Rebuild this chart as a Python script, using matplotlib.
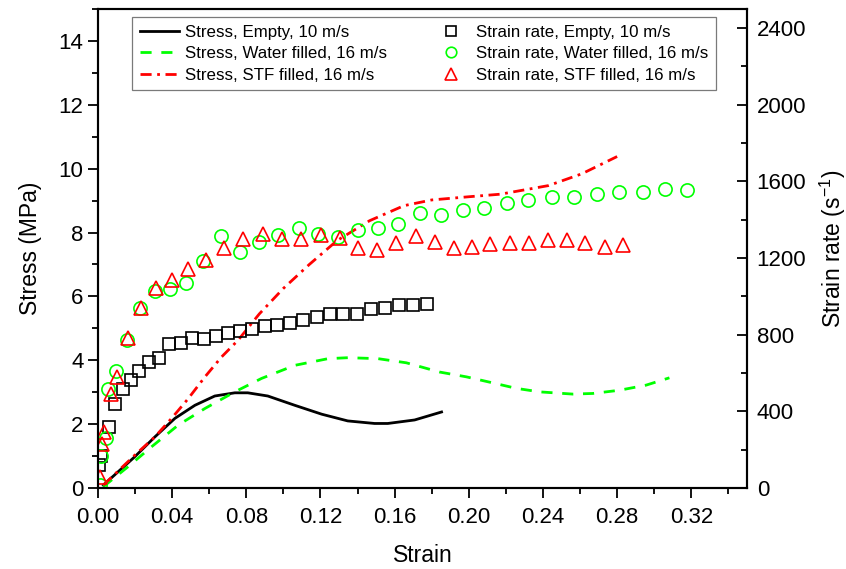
import numpy as np
from matplotlib import pyplot as plt
from matplotlib.ticker import MultipleLocator

plt.rcParams['font.family'] = ['Liberation Sans', 'DejaVu Sans']
plt.rcParams['mathtext.default'] = 'regular'

# Stress-strain curves (left axis, MPa).
strain_empty = [0.0029, 0.0199, 0.0307, 0.0415, 0.0523, 0.0630, 0.0738, 0.0808,
	0.0916, 0.1061, 0.1207, 0.1347, 0.1492, 0.1563, 0.1708, 0.1853]
stress_empty = [0.09, 0.98, 1.60, 2.18, 2.59, 2.88, 2.98, 2.98,
	2.88, 2.59, 2.31, 2.10, 2.02, 2.02, 2.13, 2.38]

strain_water = [0.0029, 0.0163, 0.0289, 0.0433, 0.0577, 0.0738, 0.0882, 0.1061,
	0.1241, 0.1349, 0.1510, 0.1663, 0.1843, 0.1987, 0.2130, 0.2256, 0.2381,
	0.2561, 0.2669, 0.2812, 0.2956, 0.3082]
stress_water = [0.04, 0.67, 1.29, 1.97, 2.49, 3.01, 3.43, 3.84,
	4.05, 4.08, 4.05, 3.92, 3.63, 3.48, 3.29, 3.12, 3.01,
	2.94, 2.96, 3.06, 3.22, 3.45]

strain_stf = [0.0029, 0.0199, 0.0307, 0.0397, 0.0487, 0.0577, 0.0666, 0.0756,
	0.087, 0.100, 0.114, 0.129, 0.1465, 0.165, 0.180, 0.200, 0.217, 0.243,
	0.261, 0.280]
stress_stf = [0.09, 1.03, 1.60, 2.18, 2.80, 3.48, 4.10, 4.63,
	5.45, 6.25, 7.0, 7.75, 8.37, 8.84, 9.02, 9.12, 9.2, 9.47,
	9.84, 10.38]

# Strain rate points (right axis, 1/s).
rate_strain_empty = [0.0005, 0.0016, 0.0059, 0.0092, 0.0135, 0.0178, 0.0221,
	0.0275, 0.0329, 0.0383, 0.0447, 0.0506, 0.0571, 0.0636, 0.0700, 0.0765,
	0.0830, 0.0900, 0.0964, 0.1034, 0.1105, 0.1180, 0.1250, 0.1320, 0.1395,
	0.1471, 0.1546, 0.1622, 0.1697, 0.1773]
rate_empty = [120, 165, 317, 436, 514, 566, 608, 660, 680, 753, 758, 784, 779,
	795, 810, 821, 831, 847, 852, 862, 878, 894, 909, 909, 909, 935, 940, 956,
	956, 961]

rate_strain_water = [0.0011, 0.0016, 0.0043, 0.0054, 0.0097, 0.0156, 0.0226,
	0.0307, 0.0388, 0.0474, 0.0566, 0.0663, 0.0765, 0.0867, 0.0970, 0.1083,
	0.1185, 0.1293, 0.1401, 0.1509, 0.1616, 0.1735, 0.1848, 0.1967, 0.2080,
	0.2204, 0.2317, 0.2446, 0.2565, 0.2689, 0.2812, 0.2937, 0.3060, 0.3179]
rate_water = [16, 166, 260, 519, 608, 774, 940, 1029, 1039, 1070, 1184, 1314,
	1231, 1283, 1320, 1356, 1325, 1309, 1345, 1356, 1377, 1434, 1423, 1449,
	1460, 1486, 1501, 1517, 1517, 1532, 1543, 1543, 1559, 1553]

rate_strain_stf = [0.0011, 0.0022, 0.0032, 0.0070, 0.0102, 0.0162, 0.0232,
	0.0313, 0.0399, 0.0485, 0.0582, 0.0679, 0.0781, 0.0889, 0.0991, 0.1094,
	0.1202, 0.1304, 0.1401, 0.1503, 0.1606, 0.1713, 0.1816, 0.1918, 0.2015,
	0.2117, 0.2220, 0.2322, 0.2425, 0.2527, 0.2629, 0.2732, 0.2834]
rate_stf = [57, 229, 291, 488, 577, 784, 940, 1044, 1086, 1143, 1190, 1252,
	1299, 1325, 1299, 1299, 1320, 1304, 1252, 1242, 1278, 1314, 1283, 1252,
	1257, 1273, 1278, 1278, 1294, 1294, 1278, 1257, 1268]

green = '#00ff00'
red = '#ff0000'

fig = plt.figure(figsize=(8.46, 5.69), dpi=100)
ax = fig.add_axes([0.1158, 0.1424, 0.7671, 0.8418])
ax2 = ax.twinx()

l1, = ax.plot(strain_empty, stress_empty, color='k', lw=2,
	label='Stress, Empty, 10 m/s')
l2, = ax.plot(strain_water, stress_water, color=green, lw=2,
	dashes=(4, 3.5), label='Stress, Water filled, 16 m/s')
l3, = ax.plot(strain_stf, stress_stf, color=red, lw=2,
	dashes=(4, 2, 1, 2), label='Stress, STF filled, 16 m/s')

m1, = ax2.plot(rate_strain_empty, rate_empty, ls='none', marker='s', ms=8.5,
	mfc='none', mec='k', mew=1.2, label='Strain rate, Empty, 10 m/s')
m2, = ax2.plot(rate_strain_water, rate_water, ls='none', marker='o', ms=9.5,
	mfc='none', mec=green, mew=1.2, label='Strain rate, Water filled, 16 m/s')
m3, = ax2.plot(rate_strain_stf, rate_stf, ls='none', marker='^', ms=10,
	mfc='none', mec=red, mew=1.2, label='Strain rate, STF filled, 16 m/s')

ax.set_xlim(0, 0.35)
ax.set_ylim(0, 15)
ax2.set_ylim(0, 2500)

ax.xaxis.set_major_locator(MultipleLocator(0.04))
ax.xaxis.set_minor_locator(MultipleLocator(0.02))
ax.yaxis.set_major_locator(MultipleLocator(2))
ax.yaxis.set_minor_locator(MultipleLocator(1))
ax2.yaxis.set_major_locator(MultipleLocator(400))
ax2.yaxis.set_minor_locator(MultipleLocator(200))
ax.xaxis.set_major_formatter(plt.FormatStrFormatter('%.2f'))

for a in (ax, ax2):
	for s in a.spines.values():
		s.set_linewidth(1.5)
ax.tick_params(which='both', direction='out', width=1.3, labelsize=16, top=False)
ax.tick_params(which='major', length=7)
ax.tick_params(which='minor', length=4)
ax.tick_params(axis='x', which='major', pad=6.5)
ax2.tick_params(which='both', direction='in', width=1.3, labelsize=16, pad=7)
ax2.tick_params(which='major', length=7)
ax2.tick_params(which='minor', length=4)

ax.set_xlabel('Strain', fontsize=16.5, labelpad=12)
ax.set_ylabel('Stress (MPa)', fontsize=16.5, labelpad=12)
ax2.set_ylabel('Strain rate (s$^{-1}$)', fontsize=16.5, labelpad=8)

leg = ax2.legend(handles=[l1, l2, l3, m1, m2, m3], ncol=2, loc='upper left',
	bbox_to_anchor=(0.0524, 0.983), borderaxespad=0, fontsize=12.2,
	frameon=True, fancybox=False, edgecolor='0.35', handlelength=2.35,
	handletextpad=0.3, columnspacing=2.65, labelspacing=0.38, borderpad=0.45,
	markerscale=0.8)
leg.get_frame().set_linewidth(0.9)

fig.savefig('out.png', dpi=100)
